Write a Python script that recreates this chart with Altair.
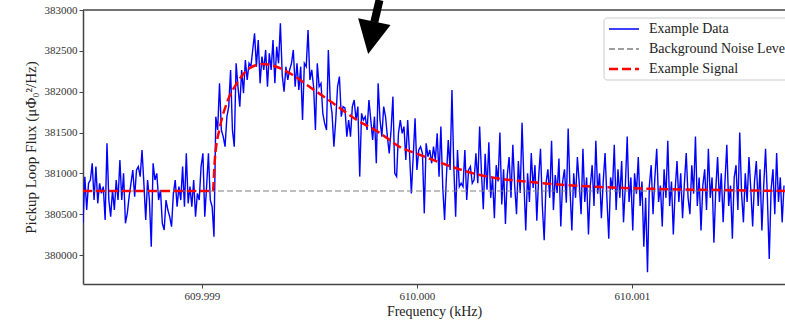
import altair as alt
import pandas as pd

# ---------------- data ----------------
freq_start = 609.998447          # kHz, first sample
freq_step = 0.00000858           # kHz between samples

flux = [
    # baseline noise before onset
    380388, 380959, 380551, 380878, 380918, 381122, 380673, 381082, 380633, 380878,
    380755, 380837, 380429, 381367, 380673, 380469, 380796, 380551, 380918, 380673,
    381163, 380673, 381000, 380388, 380510, 380714, 380878, 381041, 380714, 381041,
    381082, 380959, 381286, 380878, 380429, 380918, 380673, 380102, 381122, 380918,
    381000, 380673, 380796, 380388, 380306, 380673, 380551, 380469, 380347, 380755,
    380918, 380592, 380837, 380673, 381082, 380592, 381245, 380633, 380837, 380592,
    380918, 380469, 380755, 380673, 381082, 381245, 380469, 380837, 381245, 380673,
    380592, 380224,
    # signal region
    381694, 381531, 382102, 381531, 381449, 381327, 381694, 381817, 382266, 381531,
    381327, 382347, 382062, 381817, 382266, 381980, 382388, 382143, 382347, 382306,
    382511, 382715, 382306, 382633, 382102, 382429, 382266, 382511, 382062, 382470,
    382266, 382633, 382102, 382551, 382347, 382837, 382200, 382000,
    382306, 382143, 382266, 382347, 382511, 382062, 382347, 382021, 382306, 381653,
    382347, 382306, 382756, 382143, 382266, 382062, 381531, 382347, 382062, 382102,
    381735, 381612, 381531, 382511, 381898, 381735, 381327, 381653, 382062, 382184,
    381694, 381817,
    381800, 381449, 381653, 381449, 381817, 381898, 381653, 381817, 380960, 381735,
    381653, 381694, 381531, 381898, 381653, 381408, 381694, 381123, 382102, 381653,
    381449, 381817, 381694, 381449, 381245, 381531, 381939, 381000, 380960, 381490,
    381653, 381490, 381572, 381164, 381653, 381245, 380755, 381204,
    381674, 381041, 381286, 381327, 381245, 380510, 381368, 381204, 381286, 381123,
    381327, 381164, 381490, 380959, 381572, 380837, 380429, 380959, 381408, 381041,
    382021, 381082, 380470, 381286, 380837, 380878, 380837, 381286, 380674, 381041,
    381082, 380878, 380919, 381245, 380878, 381572,
    # tail
    381000, 380560, 381240, 380800, 381380, 380700, 380950, 380450, 381100, 380900,
    381500, 380620, 381050, 380380, 380980, 381200, 380700, 381350, 380850, 380500,
    381150, 380760, 381620, 380900, 380300, 381000, 380650, 381250, 380820, 381100,
    380420, 380950, 381300, 380600, 380180, 380880, 381050, 380700, 381400, 380550,
    380980, 380760, 381180, 380350, 380900, 381050, 380640, 381550, 380800, 380300,
    381000, 380700, 381200, 380880, 380500, 381300, 380650, 380950, 380250, 380850,
    381100, 380600, 381400, 380750, 381000, 380450, 380900, 381250, 380700, 380200,
    380950, 380800, 381350, 380550, 381050, 380700, 381150, 380400, 380850, 381450,
    380650, 380950, 380300, 381000, 380750, 381200, 380600, 380900, 380100, 380700,
    379790, 380850, 381100, 380500, 380950, 381300, 380650, 380850, 380350, 381050,
    380700, 381400, 380600, 380900, 380250, 380800, 381150, 380650, 381000, 380450,
    380880, 381250, 380700, 380500, 381100, 380750, 381450, 380600, 380950, 380300,
    380850, 381050, 380550, 381300, 380700, 380950, 380150, 380800, 381200, 380650,
    381000, 380400, 380900, 381350, 380600, 380850, 380200, 380950, 381100, 380550,
    381500, 380750, 380400, 381000, 380650, 381200, 380800, 380350, 380900, 381150,
    380600, 381050, 380300, 380850, 381300, 380700, 379950, 380800, 381050, 380500,
    381250, 380650, 380950, 380400, 380850,
]

signal_freq = [609.998447, 609.999051, 609.999060, 609.999084, 609.999116, 609.999163,
               609.999223, 609.999284, 609.999349, 609.999423, 609.999502, 609.999609,
               609.999721, 609.999828, 609.999921, 609.999991, 610.000293, 610.000572,
               610.000851, 610.001130, 610.001409, 610.001712]
signal_flux = [380784, 380784, 381163, 381568, 381861, 382106,
               382290, 382339, 382302, 382204, 382057, 381861,
               381653, 381494, 381322, 381249, 380980, 380882,
               380833, 380808, 380796, 380784]

background_level = 380784

x_domain = [609.998447, 610.001712]
y_domain = [379645, 383000]
x_ticks = [609.999, 610.000, 610.001]
y_ticks = [380000, 380500, 381000, 381500, 382000, 382500, 383000]

series_names = ["Example Data", "Background Noise Level", "Example Signal"]
series_colors = ["#0000ff", "#808080", "#ff0000"]
series_dashes = [[1, 0], [6, 3], [9, 4]]
series_widths = [1.4, 1.2, 2.5]

# arrow annotation (data coordinates)
arrow_head_freq = [609.999802]
arrow_head_flux = [382679]
arrow_tail_freq = [609.999826]
arrow_tail_flux = [383122]
arrow_neck_freq = [609.999802]
arrow_neck_flux = [382853]

# ---------------- tables ----------------
freq = [freq_start + i * freq_step for i in range(len(flux))]
data_df = pd.DataFrame({"freq": freq, "flux": flux, "series": series_names[0]})
bg_df = pd.DataFrame({"freq": x_domain, "flux": [background_level, background_level],
                      "series": series_names[1]})
sig_df = pd.DataFrame({"freq": signal_freq, "flux": signal_flux, "series": series_names[2]})
arrow_df = pd.DataFrame({"hf": arrow_head_freq, "hv": arrow_head_flux,
                         "tf": arrow_tail_freq, "tv": arrow_tail_flux,
                         "nf": arrow_neck_freq, "nv": arrow_neck_flux})

PLOT_W, PLOT_H = 702, 274
FONT = "Liberation Serif"

x_scale = alt.Scale(domain=x_domain, nice=False, zero=False)
y_scale = alt.Scale(domain=y_domain, nice=False, zero=False)

x_axis = alt.Axis(values=x_ticks, format=".3f", grid=False, title="Frequency (kHz)",
                  labelFont=FONT, labelFontSize=11, labelColor="#333",
                  titleFont=FONT, titleFontSize=14, titleFontWeight="normal",
                  titleColor="#222", titlePadding=3, tickSize=4, tickColor="#444",
                  domainColor="#444", domainWidth=1.5, labelPadding=2)
y_axis = alt.Axis(values=y_ticks, format="d", grid=False,
                  title="Pickup Loop Flux (μΦ₀²/Hz)",
                  labelFont=FONT, labelFontSize=11, labelColor="#333",
                  titleFont=FONT, titleFontSize=15, titleFontWeight="normal",
                  titleColor="#222", titlePadding=6, tickSize=4, tickColor="#444",
                  domainColor="#444", domainWidth=1.5, labelPadding=2)

color_enc = alt.Color("series:N", scale=alt.Scale(domain=series_names, range=series_colors),
                      legend=None)
dash_enc = alt.StrokeDash("series:N", scale=alt.Scale(domain=series_names, range=series_dashes),
                          legend=None)

def series_layer(df, **mark_kw):
    return alt.Chart(df).mark_line(clip=True, **mark_kw).encode(
        x=alt.X("freq:Q", scale=x_scale, axis=x_axis),
        y=alt.Y("flux:Q", scale=y_scale, axis=y_axis),
        color=color_enc,
        strokeDash=dash_enc,
    )

data_layer = series_layer(data_df, strokeWidth=series_widths[0])
bg_layer = series_layer(bg_df, strokeWidth=series_widths[1])
sig_layer = series_layer(sig_df, strokeWidth=series_widths[2], interpolate="monotone")

top_spine = alt.Chart().mark_rule(color="#444", strokeWidth=1.5).encode(
    x=alt.value(0), x2=alt.value(PLOT_W), y=alt.value(0))

shaft = alt.Chart(arrow_df).mark_rule(color="black", strokeWidth=8, clip=False).encode(
    x=alt.X("tf:Q", scale=x_scale), x2="nf:Q",
    y=alt.Y("tv:Q", scale=y_scale), y2="nv:Q")

head = alt.Chart(arrow_df).mark_point(
    shape="M-0.908,-1.003L0.908,-0.627L-0.347,1Z", size=1274,
    filled=True, color="black", opacity=1, clip=False, strokeWidth=0).encode(
    x=alt.X("hf:Q", scale=x_scale), y=alt.Y("hv:Q", scale=y_scale))

# ---------------- legend (matplotlib-style box, top right) ----------------
LEG_X0, LEG_X1, LEG_Y0, LEG_Y1 = 521, 712, 8, 70
LEG_ROW0, LEG_ROW_STEP = 19, 20
LEG_SYM_X0, LEG_SYM_X1, LEG_TXT_X = 526, 556, 566

legend_layers = [
    alt.Chart().mark_rect(fill="white", fillOpacity=0.85, stroke="#cccccc",
                          strokeWidth=1, cornerRadius=3).encode(
        x=alt.value(LEG_X0), x2=alt.value(LEG_X1),
        y=alt.value(LEG_Y0), y2=alt.value(LEG_Y1))
]
for k, name in enumerate(series_names):
    yk = LEG_ROW0 + k * LEG_ROW_STEP
    legend_layers.append(
        alt.Chart().mark_rule(color=series_colors[k], strokeDash=series_dashes[k],
                              strokeWidth=max(series_widths[k], 1.5)).encode(
            x=alt.value(LEG_SYM_X0), x2=alt.value(LEG_SYM_X1), y=alt.value(yk)))
    legend_layers.append(
        alt.Chart().mark_text(align="left", baseline="middle", font=FONT,
                              fontSize=14, color="#222").encode(
            x=alt.value(LEG_TXT_X), y=alt.value(yk), text=alt.value(name)))

chart = alt.layer(data_layer, bg_layer, sig_layer, top_spine, shaft, head,
                  *legend_layers).properties(
    width=PLOT_W, height=PLOT_H,
    autosize=alt.AutoSizeParams(type="none"),
    padding={"left": 83, "top": 10, "right": 0, "bottom": 40},
    background="white",
).configure_view(stroke=None)

chart.save("out.html", embed_options={"renderer": "svg", "actions": False})
